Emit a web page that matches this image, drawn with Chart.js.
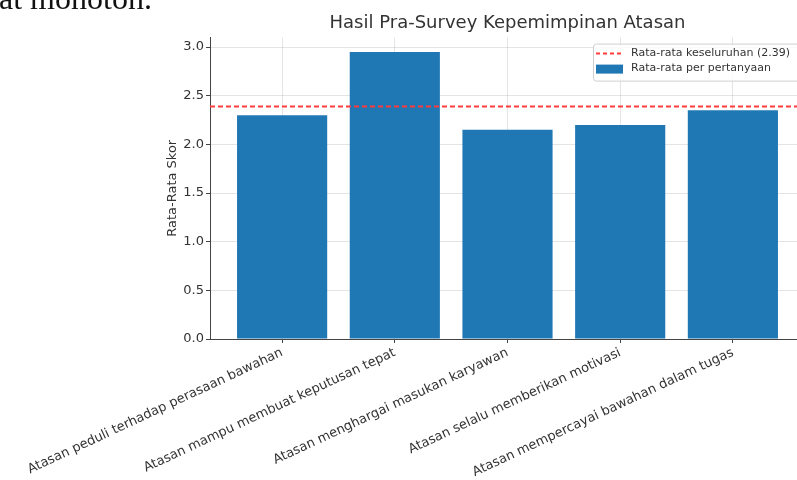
<!DOCTYPE html>
<html>
<head>
<meta charset="utf-8">
<script src="https://cdn.jsdelivr.net/npm/chart.js@4"></script>
<style>
  html, body { margin: 0; padding: 0; background: #fff; overflow: hidden; }
  #wrap { position: relative; width: 797px; height: 480px; overflow: hidden; }
  #doc-text {
    position: absolute; left: -1px; top: -18px;
    font-family: "Liberation Serif", "DejaVu Serif", serif;
    font-size: 32px; line-height: 32px; color: #111; white-space: nowrap;
  }
</style>
</head>
<body>
<div id="wrap">
  <canvas id="chart" width="810" height="480"></canvas>
  <div id="doc-text">at monoton.</div>
</div>
<script>
const categories = [
    'Atasan peduli terhadap perasaan bawahan',
    'Atasan mampu membuat keputusan tepat',
    'Atasan menghargai masukan karyawan',
    'Atasan selalu memberikan motivasi',
    'Atasan mempercayai bawahan dalam tugas'
]
const avgScores = [2.3, 2.95, 2.15, 2.2, 2.35]
const overallMean = 2.39
const yTickValues = [0, 0.5, 1.0, 1.5, 2.0, 2.5, 3.0]

const xMin = -0.64
const xMax = 4.64
const yMax = 3.0975

const barColor = '#1f77b4'
const lineColor = '#ff3b3b'
const gridColor = 'rgba(170,170,170,0.32)'
const fontFamily = '"DejaVu Sans", sans-serif'

// legend drawn inside the plot area, top right like matplotlib
const innerLegend = {
    id: 'innerLegend',
    afterDraw(chart) {
        const ctx = chart.ctx
        const area = chart.chartArea
        const right = area.right - 5
        const left = right - 207
        const top = area.top + 6
        const h = 37
        ctx.save()
        ctx.fillStyle = 'rgba(255,255,255,0.85)'
        ctx.strokeStyle = '#d0d0d0'
        ctx.lineWidth = 1
        ctx.beginPath()
        ctx.roundRect(left + 0.5, top + 0.5, right - left, h, 3)
        ctx.fill()
        ctx.stroke()

        ctx.font = '11px ' + fontFamily
        ctx.textBaseline = 'middle'

        const items = chart.data.datasets
        // line item
        const y1 = top + 10
        ctx.strokeStyle = lineColor
        ctx.lineWidth = 2
        ctx.setLineDash([4, 3])
        ctx.beginPath()
        ctx.moveTo(left + 3, y1)
        ctx.lineTo(left + 30, y1)
        ctx.stroke()
        ctx.setLineDash([])
        ctx.fillStyle = '#333'
        ctx.fillText(items[0].label, left + 38, y1)
        // bar item
        const y2 = top + 25
        ctx.fillStyle = barColor
        ctx.fillRect(left + 3, y2 - 4, 27, 9)
        ctx.fillStyle = '#333'
        ctx.fillText(items[1].label, left + 38, y2)
        ctx.restore()
    }
}

const ctx = document.getElementById('chart').getContext('2d')
const chart = new Chart(ctx, {
    data: {
        datasets: [
            {
                type: 'line',
                label: 'Rata-rata keseluruhan (' + overallMean.toFixed(2) + ')',
                data: [{ x: xMin, y: overallMean }, { x: xMax, y: overallMean }],
                borderColor: lineColor,
                borderWidth: 2,
                borderDash: [5, 3],
                pointRadius: 0,
                order: 0
            },
            {
                type: 'bar',
                label: 'Rata-rata per pertanyaan',
                data: categories.map((c, i) => ({ x: i, y: avgScores[i] })),
                backgroundColor: barColor,
                borderWidth: 0,
                categoryPercentage: 0.8,
                barPercentage: 1.0,
                order: 1
            }
        ]
    },
    options: {
        responsive: false,
        animation: false,
        devicePixelRatio: 1,
        layout: { padding: { left: 163, right: 5, top: 0, bottom: 0 } },
        plugins: {
            legend: { display: false },
            tooltip: { enabled: false },
            title: {
                display: true,
                fullSize: false,
                text: 'Hasil Pra-Survey Kepemimpinan Atasan',
                color: '#333',
                font: { family: fontFamily, size: 18, weight: 'normal' },
                padding: { top: 13, bottom: 3 }
            }
        },
        scales: {
            x: {
                type: 'linear',
                min: xMin,
                max: xMax,
                offset: false,
                z: 1,
                afterBuildTicks: axis => {
                    axis.ticks = categories.map((c, i) => ({ value: i }))
                },
                afterFit: scale => { scale.height = 141 },
                ticks: {
                    autoSkip: false,
                    minRotation: 25,
                    maxRotation: 25,
                    padding: 2,
                    color: '#333',
                    font: { family: fontFamily, size: 13 },
                    callback: value => categories[value]
                },
                grid: {
                    offset: false,
                    color: gridColor,
                    drawTicks: true,
                    tickLength: 4,
                    tickColor: '#444'
                },
                border: { display: true, color: '#444', width: 1 }
            },
            y: {
                min: 0,
                max: yMax,
                z: 1,
                afterBuildTicks: axis => {
                    axis.ticks = yTickValues.map(v => ({ value: v }))
                },
                afterFit: scale => { scale.width = 47 },
                title: {
                    display: true,
                    text: 'Rata-Rata Skor',
                    color: '#333',
                    font: { family: fontFamily, size: 13 },
                    padding: { top: 2, bottom: 0 }
                },
                ticks: {
                    padding: 2,
                    color: '#333',
                    font: { family: fontFamily, size: 13 },
                    callback: value => value.toFixed(1)
                },
                grid: {
                    color: gridColor,
                    drawTicks: true,
                    tickLength: 4,
                    tickColor: '#444'
                },
                border: { display: true, color: '#444', width: 1 }
            }
        }
    },
    plugins: [innerLegend]
})
</script>
</body>
</html>
